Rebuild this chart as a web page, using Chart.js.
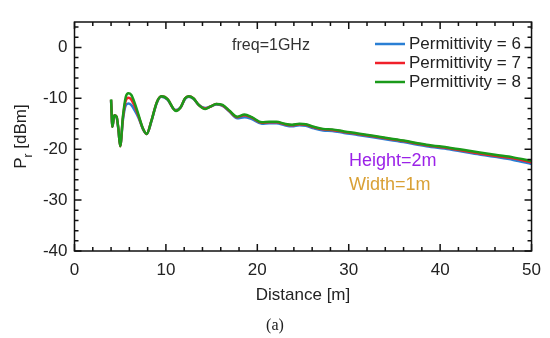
<!DOCTYPE html>
<html>
<head>
<meta charset="utf-8">
<script src="https://cdn.jsdelivr.net/npm/chart.js@4.4.1/dist/chart.umd.min.js"></script>
<style>
    body { margin: 0; background: #fff; }
    #wrap { position: relative; width: 550px; height: 338px; }
    #caption {
        position: absolute; left: 0; width: 550px; top: 316px;
        text-align: center; font: 16px "Liberation Serif", "DejaVu Serif", serif; color: #222;
    }
</style>
</head>
<body>
<div id="wrap">
    <canvas id="chart" width="550" height="338"></canvas>
    <div id="caption">(a)</div>
</div>
<script>
const DISTANCE = [
    4, 4.15, 4.35, 4.6, 4.8, 5.0, 5.3, 5.6, 5.9, 6.2, 6.6, 7.0, 7.5, 7.9, 8.4, 9.0, 9.5,
    10.2, 10.8, 11.1, 11.6, 12.1, 12.5, 13.0, 13.6, 14.3, 14.9, 15.5, 16.2, 17.0, 17.8,
    18.6, 19.4, 20.5, 21.3, 22.1, 23.0, 23.8, 24.6, 25.3, 26.2, 27.2, 28.2, 29.5, 31,
    33.5, 36, 38.5, 41, 43.5, 46, 48, 50
];

const PERM_6 = [
    -10.4, -15.6, -13.4, -13.7, -16.1, -19.3, -14.2, -11.4, -11.0, -11.3, -12.4, -13.8, -16.1, -17.0, -14.6, -10.9, -9.7,
    -10.3, -12.0, -12.3, -11.8, -10.1, -9.7, -10.1, -11.3, -11.9, -11.6, -11.2, -11.5, -12.7, -13.9,
    -13.7, -14.1, -15.0, -14.9, -14.9, -15.3, -15.5, -15.3, -15.4, -15.9, -16.3, -16.4, -16.8, -17.2,
    -17.9, -18.6, -19.4, -20.0, -20.8, -21.5, -22.1, -22.9
];

const PERM_7 = [
    -10.3, -15.6, -13.3, -13.6, -16.0, -19.4, -13.8, -10.5, -9.9, -10.2, -11.6, -13.5, -16.0, -17.0, -14.5, -10.8, -9.6,
    -10.2, -12.0, -12.4, -11.8, -10.0, -9.6, -10.0, -11.3, -12.0, -11.6, -11.1, -11.4, -12.6, -13.7,
    -13.3, -13.8, -14.8, -14.7, -14.7, -15.1, -15.3, -15.1, -15.2, -15.7, -16.1, -16.2, -16.6, -17.0,
    -17.7, -18.4, -19.2, -19.8, -20.6, -21.3, -21.8, -22.6
];

const PERM_8 = [
    -10.2, -15.6, -13.3, -13.6, -16.0, -19.4, -13.5, -9.8, -9.0, -9.3, -11.0, -13.2, -16.0, -17.0, -14.5, -10.8, -9.6,
    -10.2, -12.0, -12.5, -11.8, -10.0, -9.6, -10.0, -11.3, -12.1, -11.6, -11.1, -11.3, -12.5, -13.6,
    -13.2, -13.7, -14.7, -14.6, -14.6, -15.0, -15.2, -15.0, -15.1, -15.6, -16.0, -16.1, -16.5, -16.9,
    -17.6, -18.3, -19.1, -19.7, -20.4, -21.1, -21.6, -22.3
];

const SERIES_LABELS = ['Permittivity = 6', 'Permittivity = 7', 'Permittivity = 8'];
const SERIES_COLORS = ['#2a7fd4', '#f0202a', '#1a9a1a'];

const X_TICKS = [0, 10, 20, 30, 40, 50];
const Y_TICKS = [-40, -30, -20, -10, 0];

const FONT = '"Liberation Sans", Arial, sans-serif';

function toPoints(values) {
    return DISTANCE.map((d, i) => ({ x: d, y: values[i] }));
}

// inward ticks on all four sides plus the box
const frame = {
    id: 'frame',
    afterDraw(chart) {
        const ctx = chart.ctx;
        const a = chart.chartArea;
        const xs = chart.scales.x;
        const ys = chart.scales.y;
        ctx.save();
        ctx.strokeStyle = '#111';
        ctx.lineWidth = 1.5;
        ctx.strokeRect(a.left, a.top, a.right - a.left, a.bottom - a.top);
        ctx.beginPath();
        for (let v = 0; v <= 50; v += 2) {
            let len = v % 10 === 0 ? 7 : 4;
            let px = xs.getPixelForValue(v);
            ctx.moveTo(px, a.bottom); ctx.lineTo(px, a.bottom - len);
            ctx.moveTo(px, a.top); ctx.lineTo(px, a.top + len);
        }
        for (let v = -40; v <= 4; v += 2) {
            let len = v % 10 === 0 ? 7 : 4;
            let py = ys.getPixelForValue(v);
            ctx.moveTo(a.left, py); ctx.lineTo(a.left + len, py);
            ctx.moveTo(a.right, py); ctx.lineTo(a.right - len, py);
        }
        ctx.stroke();

        // y title with subscript
        ctx.fillStyle = '#222';
        ctx.translate(26, (a.top + a.bottom) / 2);
        ctx.rotate(-Math.PI / 2);
        ctx.textBaseline = 'alphabetic';
        ctx.font = '17px ' + FONT;
        let w1 = ctx.measureText('P').width;
        ctx.font = '12px ' + FONT;
        let w2 = ctx.measureText('r').width;
        ctx.font = '17px ' + FONT;
        let w3 = ctx.measureText(' [dBm]').width;
        let x0 = -(w1 + w2 + w3) / 2;
        ctx.fillText('P', x0, 0);
        ctx.font = '12px ' + FONT;
        ctx.fillText('r', x0 + w1, 6);
        ctx.font = '17px ' + FONT;
        ctx.fillText(' [dBm]', x0 + w1 + w2, 0);
        ctx.restore();

        // legend
        ctx.save();
        ctx.font = '17px ' + FONT;
        ctx.textBaseline = 'middle';
        for (let i = 0; i < SERIES_LABELS.length; i++) {
            let y = 44 + i * 19;
            ctx.strokeStyle = SERIES_COLORS[i];
            ctx.lineWidth = 2.5;
            ctx.beginPath();
            ctx.moveTo(375, y); ctx.lineTo(405, y);
            ctx.stroke();
            ctx.fillStyle = '#222';
            ctx.fillText(SERIES_LABELS[i], 409, y);
        }

        // notes
        ctx.fillStyle = '#333';
        ctx.font = '16px ' + FONT;
        ctx.textAlign = 'center';
        ctx.fillText('freq=1GHz', 271, 46);
        ctx.textAlign = 'left';
        ctx.font = '18px ' + FONT;
        ctx.fillStyle = '#9b22e8';
        ctx.fillText('Height=2m', 349, 161);
        ctx.fillStyle = '#d9a035';
        ctx.fillText('Width=1m', 349, 185);
        ctx.restore();
    }
};

new Chart(document.getElementById('chart'), {
    type: 'line',
    data: {
        datasets: [
            { label: SERIES_LABELS[0], data: toPoints(PERM_6), borderColor: SERIES_COLORS[0], order: 3 },
            { label: SERIES_LABELS[1], data: toPoints(PERM_7), borderColor: SERIES_COLORS[1], order: 2 },
            { label: SERIES_LABELS[2], data: toPoints(PERM_8), borderColor: SERIES_COLORS[2], order: 1 }
        ]
    },
    options: {
        responsive: false,
        animation: false,
        layout: { padding: { left: 0, right: 16, top: 22, bottom: 31 } },
        elements: {
            point: { radius: 0 },
            line: { borderWidth: 2.5, cubicInterpolationMode: 'monotone', fill: false }
        },
        plugins: { legend: { display: false }, tooltip: { enabled: false } },
        scales: {
            x: {
                type: 'linear',
                min: 0, max: 50,
                afterBuildTicks: s => { s.ticks = X_TICKS.map(v => ({ value: v })); },
                afterFit: s => { s.height = 56; },
                grid: { display: false, drawTicks: false },
                border: { display: false },
                ticks: { padding: 9, color: '#222', font: { family: FONT, size: 17 } },
                title: {
                    display: true, text: 'Distance [m]', color: '#222',
                    font: { family: FONT, size: 17 }, padding: { top: 2, bottom: 1 }
                }
            },
            y: {
                type: 'linear',
                min: -40, max: 5,
                afterBuildTicks: s => { s.ticks = Y_TICKS.map(v => ({ value: v })); },
                afterFit: s => { s.width = 74.5; },
                grid: { display: false, drawTicks: false },
                border: { display: false },
                ticks: { padding: 7, color: '#222', font: { family: FONT, size: 17 } }
            }
        }
    },
    plugins: [frame]
});
</script>
</body>
</html>
